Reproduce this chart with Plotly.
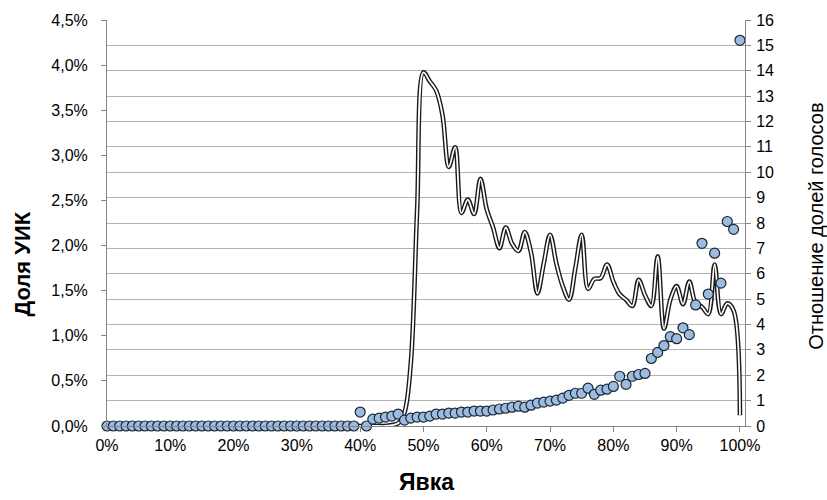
import plotly.graph_objects as go

# Turnout, percent of registered voters (one bin per percent)
turnout = list(range(0, 101))

# Share of polling stations (УИК) in each turnout bin, %
uik_share = [
    0, 0, 0, 0, 0, 0, 0, 0, 0, 0,
    0, 0, 0, 0, 0, 0, 0, 0, 0, 0,
    0, 0, 0, 0, 0, 0, 0, 0, 0, 0,
    0, 0, 0, 0, 0, 0, 0, 0, 0, 0,
    0, 0, 0, 0, 0, 0.01, 0.03, 0.15, 0.70, 2.40,
    3.92, 3.82, 3.72, 3.45, 2.87, 3.09, 2.36, 2.51, 2.35, 2.74,
    2.40, 2.20, 1.97, 2.20, 2.02, 1.94, 2.15, 1.92, 1.47, 1.80,
    2.12, 1.80, 1.55, 1.40, 1.75, 2.12, 1.52, 1.63, 1.64, 1.79,
    1.60, 1.46, 1.40, 1.33, 1.62, 1.45, 1.33, 1.88, 1.08, 1.40,
    1.55, 1.35, 1.60, 1.36, 1.32, 1.24, 1.79, 1.24, 1.36, 1.28,
    0.12,
]

# Ratio of vote shares in each turnout bin
vote_ratio = [
    0, 0, 0, 0, 0, 0, 0, 0, 0, 0,
    0, 0, 0, 0, 0, 0, 0, 0, 0, 0,
    0, 0, 0, 0, 0, 0, 0, 0, 0, 0,
    0, 0, 0, 0, 0, 0, 0, 0, 0, 0,
    0.55, 0, 0.27, 0.31, 0.35, 0.39, 0.47, 0.23, 0.31, 0.35,
    0.35, 0.39, 0.47, 0.47, 0.51, 0.51, 0.55, 0.55, 0.59, 0.59,
    0.59, 0.63, 0.67, 0.70, 0.74, 0.78, 0.74, 0.82, 0.90, 0.94,
    0.98, 1.02, 1.10, 1.21, 1.29, 1.29, 1.49, 1.25, 1.41, 1.45,
    1.56, 1.96, 1.64, 1.96, 2.03, 2.07, 2.66, 2.90, 3.17, 3.52,
    3.44, 3.87, 3.60, 4.77, 7.20, 5.20, 6.81, 5.63, 8.06, 7.75,
    15.2,
]

x_tick_vals = [0, 10, 20, 30, 40, 50, 60, 70, 80, 90, 100]
x_tick_text = ["0%", "10%", "20%", "30%", "40%", "50%", "60%", "70%", "80%", "90%", "100%"]

y_tick_vals = [0, 0.5, 1.0, 1.5, 2.0, 2.5, 3.0, 3.5, 4.0, 4.5]
y_tick_text = ["0,0%", "0,5%", "1,0%", "1,5%", "2,0%", "2,5%", "3,0%", "3,5%", "4,0%", "4,5%"]

FONT = "Liberation Sans, Arial, sans-serif"
AXIS_GREY = "#868686"

fig = go.Figure()

# Double-stroke smoothed line: dark outer stroke with a white core
fig.add_trace(go.Scatter(
    x=turnout, y=uik_share, mode="lines", yaxis="y",
    line=dict(color="#1a1a1a", width=4.6, shape="spline", smoothing=1),
    hoverinfo="skip", showlegend=False,
))
fig.add_trace(go.Scatter(
    x=turnout, y=uik_share, mode="lines", yaxis="y",
    line=dict(color="#ffffff", width=1.8, shape="spline", smoothing=1),
    hoverinfo="skip", showlegend=False,
))

# Vote share ratio markers on the secondary axis
fig.add_trace(go.Scatter(
    x=turnout, y=vote_ratio, mode="markers", yaxis="y2",
    marker=dict(size=10, color="#9bbbe1", line=dict(color="#1c2633", width=1.2)),
    cliponaxis=False, showlegend=False,
))

fig.update_layout(
    width=827, height=500,
    margin=dict(l=107, r=82, t=17, b=74),
    paper_bgcolor="white", plot_bgcolor="white",
    font=dict(family=FONT, color="#000000", size=16),
    xaxis=dict(
        range=[0, 100.8], tickvals=x_tick_vals, ticktext=x_tick_text,
        ticks="outside", ticklen=5, tickcolor=AXIS_GREY,
        showline=True, linecolor=AXIS_GREY, linewidth=1,
        showgrid=False, zeroline=False,
        tickfont=dict(size=16), ticklabelstandoff=0,
    ),
    yaxis=dict(
        range=[0, 4.5], tickvals=y_tick_vals, ticktext=y_tick_text,
        ticks="outside", ticklen=5, tickcolor=AXIS_GREY,
        showline=True, linecolor=AXIS_GREY, linewidth=1,
        showgrid=False, zeroline=False,
        tickfont=dict(size=16), ticklabelstandoff=10,
    ),
    yaxis2=dict(
        overlaying="y", side="right",
        range=[0, 16], dtick=1,
        ticks="outside", ticklen=5, tickcolor=AXIS_GREY,
        showline=True, linecolor=AXIS_GREY, linewidth=1,
        showgrid=True, gridcolor="#b3b3b3", gridwidth=1,
        zeroline=False,
        tickfont=dict(size=16), ticklabelstandoff=2,
    ),
    annotations=[
        dict(text="<b>Доля УИК</b>", textangle=-90, xref="paper", yref="paper",
             x=-0.133, y=0.398, xanchor="center", yanchor="middle",
             showarrow=False, font=dict(size=22, family=FONT)),
        dict(text="Отношение долей голосов", textangle=-90, xref="paper", yref="paper",
             x=1.110, y=0.491, xanchor="center", yanchor="middle",
             showarrow=False, font=dict(size=20, family=FONT)),
        dict(text="<b>Явка</b>", xref="paper", yref="paper",
             x=0.5, y=-0.137, xanchor="center", yanchor="middle",
             showarrow=False, font=dict(size=23, family=FONT)),
    ],
)

fig.write_html("out.html")
